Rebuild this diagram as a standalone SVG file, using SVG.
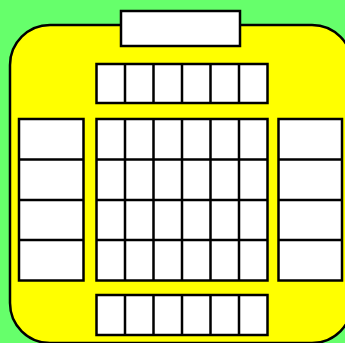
<svg xmlns="http://www.w3.org/2000/svg" width="345" height="343" viewBox="0 0 345 343">
<style>
.bg{fill:#66ff6b}
.panel{fill:#ffff00;stroke:#000;stroke-width:2.5}
.box{fill:#fff;stroke:#000;stroke-width:2.5}
.ln{stroke:#000;stroke-width:2.5;fill:none}
</style>
<rect class="bg" x="0" y="0" width="345" height="343"/>
<g id="panel"><rect class="panel" x="10" y="25" width="342" height="318" rx="40" ry="40"/></g>
<g id="title"><rect class="box" x="121" y="11" width="119" height="35"/></g>
<g id="top-row">
<rect class="box" x="96.5" y="64" width="171" height="39"/>
<path class="ln" d="M125 64V103M153.5 64V103M182 64V103M210.5 64V103M239 64V103"/>
</g>
<g id="left-col">
<rect class="box" x="19" y="119" width="64.5" height="161.5"/>
<path class="ln" d="M19 159.5H83.5M19 200H83.5M19 240H83.5"/>
</g>
<g id="center-grid">
<rect class="box" x="96.5" y="119" width="171" height="161.5"/>
<path class="ln" d="M125 119V280.5M153.5 119V280.5M182 119V280.5M210.5 119V280.5M239 119V280.5M96.5 159.5H267.5M96.5 200H267.5M96.5 240H267.5"/>
</g>
<g id="right-col">
<rect class="box" x="278.5" y="119" width="63.5" height="161.5"/>
<path class="ln" d="M278.5 159.5H342M278.5 200H342M278.5 240H342"/>
</g>
<g id="bottom-row">
<rect class="box" x="96.5" y="295" width="171" height="40"/>
<path class="ln" d="M125 295V335M153.5 295V335M182 295V335M210.5 295V335M239 295V335"/>
</g>
</svg>
